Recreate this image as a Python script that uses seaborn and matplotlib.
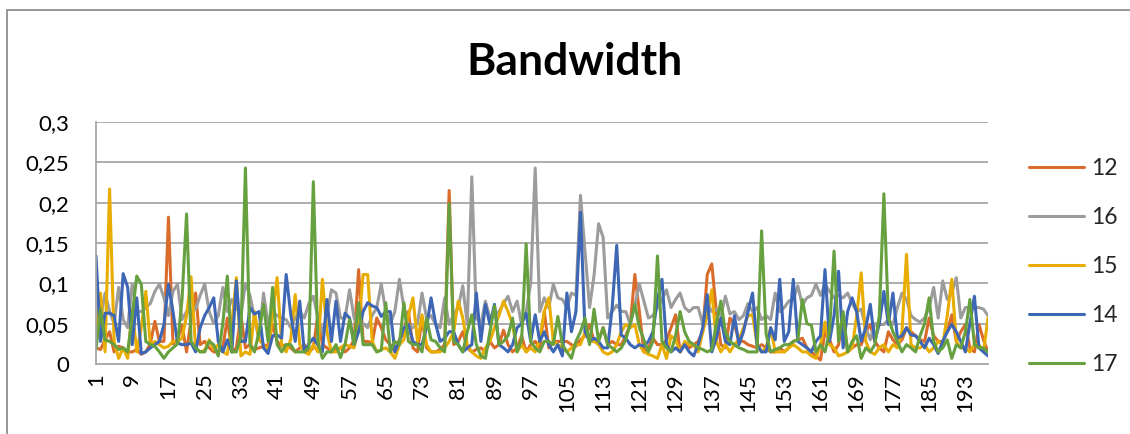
import numpy as np
import pandas as pd
import matplotlib
matplotlib.use("Agg")
import matplotlib.pyplot as plt
from matplotlib.ticker import FixedLocator, FuncFormatter
from matplotlib.lines import Line2D
import seaborn as sns

# Bandwidth samples per run (index 1..198)
bw_12 = [
    0.020, 0.018, 0.030, 0.040, 0.015, 0.022, 0.020, 0.015, 0.015, 0.018,
    0.012, 0.015, 0.025, 0.053, 0.028, 0.028, 0.182, 0.025, 0.030, 0.048,
    0.015, 0.055, 0.088, 0.024, 0.028, 0.020, 0.015, 0.015, 0.020, 0.057,
    0.015, 0.020, 0.060, 0.020, 0.024, 0.018, 0.020, 0.022, 0.024, 0.049,
    0.028, 0.022, 0.024, 0.020, 0.015, 0.020, 0.024, 0.015, 0.020, 0.061,
    0.024, 0.020, 0.015, 0.018, 0.020, 0.015, 0.020, 0.030, 0.117, 0.028,
    0.028, 0.026, 0.057, 0.045, 0.030, 0.024, 0.015, 0.030, 0.040, 0.065,
    0.020, 0.015, 0.057, 0.020, 0.015, 0.015, 0.018, 0.024, 0.215, 0.024,
    0.028, 0.040, 0.020, 0.015, 0.018, 0.020, 0.015, 0.028, 0.020, 0.024,
    0.042, 0.024, 0.015, 0.020, 0.035, 0.015, 0.024, 0.028, 0.020, 0.065,
    0.020, 0.028, 0.028, 0.028, 0.028, 0.024, 0.022, 0.030, 0.035, 0.049,
    0.028, 0.030, 0.045, 0.024, 0.028, 0.024, 0.024, 0.035, 0.049, 0.111,
    0.065, 0.015, 0.020, 0.032, 0.024, 0.024, 0.030, 0.045, 0.061, 0.015,
    0.024, 0.020, 0.024, 0.028, 0.040, 0.111, 0.124, 0.065, 0.024, 0.020,
    0.057, 0.049, 0.028, 0.028, 0.024, 0.022, 0.020, 0.024, 0.020, 0.015,
    0.015, 0.020, 0.015, 0.020, 0.028, 0.030, 0.032, 0.020, 0.015, 0.010,
    0.005, 0.040, 0.030, 0.015, 0.024, 0.060, 0.015, 0.020, 0.024, 0.024,
    0.040, 0.049, 0.028, 0.020, 0.015, 0.040, 0.030, 0.024, 0.030, 0.045,
    0.040, 0.035, 0.030, 0.028, 0.057, 0.035, 0.028, 0.028, 0.040, 0.061,
    0.028, 0.040, 0.049, 0.020, 0.015, 0.049, 0.030, 0.015,
]
bw_16 = [
    0.060, 0.055, 0.088, 0.065, 0.050, 0.095, 0.055, 0.045, 0.099, 0.065,
    0.065, 0.070, 0.075, 0.090, 0.099, 0.082, 0.060, 0.090, 0.099, 0.055,
    0.065, 0.065, 0.068, 0.085, 0.099, 0.065, 0.050, 0.060, 0.095, 0.065,
    0.080, 0.070, 0.060, 0.100, 0.085, 0.057, 0.030, 0.088, 0.050, 0.065,
    0.060, 0.057, 0.055, 0.045, 0.057, 0.065, 0.057, 0.075, 0.084, 0.057,
    0.040, 0.060, 0.092, 0.088, 0.057, 0.057, 0.092, 0.057, 0.045, 0.050,
    0.045, 0.060, 0.070, 0.099, 0.065, 0.050, 0.065, 0.105, 0.070, 0.049,
    0.045, 0.050, 0.088, 0.057, 0.060, 0.049, 0.045, 0.082, 0.049, 0.061,
    0.070, 0.097, 0.049, 0.232, 0.057, 0.049, 0.078, 0.057, 0.060, 0.065,
    0.075, 0.084, 0.065, 0.078, 0.049, 0.065, 0.100, 0.243, 0.065, 0.082,
    0.070, 0.099, 0.082, 0.080, 0.070, 0.088, 0.085, 0.209, 0.140, 0.070,
    0.110, 0.174, 0.157, 0.057, 0.065, 0.073, 0.065, 0.065, 0.049, 0.073,
    0.099, 0.078, 0.057, 0.060, 0.070, 0.080, 0.092, 0.070, 0.080, 0.088,
    0.070, 0.065, 0.070, 0.070, 0.050, 0.075, 0.065, 0.068, 0.060, 0.084,
    0.062, 0.065, 0.055, 0.060, 0.075, 0.065, 0.070, 0.055, 0.060, 0.055,
    0.088, 0.065, 0.070, 0.078, 0.080, 0.097, 0.073, 0.082, 0.085, 0.099,
    0.085, 0.099, 0.090, 0.082, 0.085, 0.082, 0.088, 0.075, 0.065, 0.068,
    0.045, 0.030, 0.050, 0.049, 0.049, 0.055, 0.049, 0.070, 0.088, 0.080,
    0.060, 0.055, 0.052, 0.057, 0.070, 0.095, 0.057, 0.103, 0.080, 0.088,
    0.107, 0.057, 0.070, 0.070, 0.070, 0.070, 0.068, 0.060,
]
bw_15 = [
    0.038, 0.088, 0.015, 0.217, 0.028, 0.007, 0.020, 0.007, 0.068, 0.015,
    0.045, 0.090, 0.024, 0.028, 0.024, 0.020, 0.022, 0.028, 0.028, 0.032,
    0.060, 0.108, 0.020, 0.015, 0.017, 0.030, 0.018, 0.024, 0.015, 0.012,
    0.050, 0.107, 0.010, 0.015, 0.012, 0.065, 0.030, 0.024, 0.015, 0.060,
    0.107, 0.024, 0.015, 0.030, 0.086, 0.024, 0.015, 0.012, 0.024, 0.015,
    0.105, 0.040, 0.015, 0.015, 0.020, 0.024, 0.022, 0.020, 0.045, 0.111,
    0.111, 0.028, 0.015, 0.018, 0.020, 0.015, 0.007, 0.024, 0.030, 0.060,
    0.082, 0.028, 0.061, 0.024, 0.015, 0.015, 0.015, 0.020, 0.028, 0.040,
    0.078, 0.057, 0.024, 0.015, 0.010, 0.007, 0.020, 0.028, 0.045, 0.060,
    0.078, 0.065, 0.049, 0.015, 0.024, 0.015, 0.020, 0.015, 0.030, 0.065,
    0.082, 0.028, 0.024, 0.020, 0.015, 0.020, 0.024, 0.024, 0.040, 0.028,
    0.028, 0.024, 0.015, 0.012, 0.015, 0.024, 0.040, 0.049, 0.045, 0.049,
    0.024, 0.015, 0.012, 0.010, 0.007, 0.024, 0.007, 0.035, 0.030, 0.015,
    0.028, 0.024, 0.024, 0.015, 0.040, 0.060, 0.092, 0.028, 0.015, 0.024,
    0.015, 0.024, 0.030, 0.045, 0.060, 0.061, 0.024, 0.015, 0.020, 0.045,
    0.015, 0.015, 0.015, 0.020, 0.024, 0.020, 0.015, 0.015, 0.010, 0.007,
    0.024, 0.052, 0.024, 0.020, 0.010, 0.012, 0.015, 0.020, 0.060, 0.113,
    0.028, 0.015, 0.012, 0.020, 0.024, 0.015, 0.024, 0.020, 0.040, 0.136,
    0.024, 0.020, 0.020, 0.024, 0.015, 0.020, 0.028, 0.024, 0.060, 0.105,
    0.028, 0.020, 0.020, 0.015, 0.024, 0.024, 0.015, 0.057,
]
bw_14 = [
    0.134, 0.028, 0.063, 0.063, 0.060, 0.028, 0.112, 0.095, 0.024, 0.082,
    0.013, 0.015, 0.020, 0.024, 0.028, 0.049, 0.099, 0.065, 0.026, 0.024,
    0.024, 0.026, 0.015, 0.045, 0.060, 0.070, 0.082, 0.028, 0.015, 0.030,
    0.015, 0.103, 0.028, 0.028, 0.070, 0.062, 0.065, 0.020, 0.013, 0.035,
    0.036, 0.032, 0.111, 0.062, 0.028, 0.078, 0.015, 0.025, 0.032, 0.024,
    0.015, 0.080, 0.028, 0.078, 0.028, 0.063, 0.057, 0.024, 0.040, 0.065,
    0.076, 0.072, 0.070, 0.059, 0.065, 0.065, 0.015, 0.028, 0.045, 0.049,
    0.028, 0.024, 0.024, 0.045, 0.082, 0.050, 0.028, 0.032, 0.040, 0.040,
    0.024, 0.015, 0.020, 0.024, 0.088, 0.028, 0.074, 0.049, 0.074, 0.024,
    0.020, 0.015, 0.024, 0.045, 0.050, 0.063, 0.028, 0.061, 0.028, 0.040,
    0.024, 0.015, 0.024, 0.010, 0.088, 0.040, 0.065, 0.188, 0.040, 0.028,
    0.032, 0.028, 0.020, 0.020, 0.070, 0.147, 0.036, 0.032, 0.024, 0.020,
    0.024, 0.022, 0.028, 0.040, 0.080, 0.105, 0.024, 0.015, 0.020, 0.015,
    0.024, 0.015, 0.010, 0.024, 0.045, 0.086, 0.015, 0.032, 0.057, 0.028,
    0.024, 0.060, 0.024, 0.040, 0.065, 0.088, 0.024, 0.015, 0.015, 0.045,
    0.030, 0.105, 0.028, 0.040, 0.105, 0.028, 0.024, 0.020, 0.015, 0.028,
    0.035, 0.117, 0.028, 0.060, 0.115, 0.020, 0.065, 0.082, 0.065, 0.028,
    0.045, 0.074, 0.028, 0.050, 0.090, 0.049, 0.088, 0.032, 0.035, 0.045,
    0.036, 0.035, 0.028, 0.020, 0.032, 0.024, 0.013, 0.028, 0.040, 0.049,
    0.040, 0.028, 0.015, 0.050, 0.084, 0.020, 0.015, 0.010,
]
bw_17 = [
    0.018, 0.068, 0.030, 0.028, 0.024, 0.018, 0.020, 0.015, 0.060, 0.109,
    0.099, 0.028, 0.024, 0.022, 0.015, 0.007, 0.015, 0.020, 0.025, 0.080,
    0.186, 0.028, 0.020, 0.015, 0.015, 0.028, 0.024, 0.010, 0.050, 0.109,
    0.015, 0.015, 0.035, 0.243, 0.024, 0.015, 0.040, 0.074, 0.028, 0.095,
    0.024, 0.015, 0.024, 0.024, 0.015, 0.015, 0.015, 0.020, 0.226, 0.028,
    0.007, 0.015, 0.015, 0.024, 0.008, 0.024, 0.055, 0.024, 0.076, 0.024,
    0.024, 0.024, 0.015, 0.017, 0.076, 0.015, 0.028, 0.024, 0.076, 0.028,
    0.024, 0.024, 0.015, 0.057, 0.030, 0.028, 0.020, 0.015, 0.199, 0.028,
    0.024, 0.015, 0.040, 0.061, 0.024, 0.010, 0.007, 0.040, 0.072, 0.024,
    0.028, 0.035, 0.057, 0.015, 0.030, 0.149, 0.028, 0.020, 0.015, 0.028,
    0.028, 0.024, 0.059, 0.024, 0.015, 0.007, 0.028, 0.040, 0.057, 0.024,
    0.068, 0.028, 0.045, 0.024, 0.020, 0.015, 0.020, 0.030, 0.050, 0.074,
    0.045, 0.030, 0.015, 0.028, 0.134, 0.028, 0.020, 0.015, 0.035, 0.065,
    0.040, 0.028, 0.024, 0.020, 0.018, 0.015, 0.018, 0.050, 0.078, 0.040,
    0.028, 0.024, 0.020, 0.018, 0.015, 0.015, 0.015, 0.165, 0.037, 0.015,
    0.018, 0.020, 0.024, 0.024, 0.028, 0.030, 0.080, 0.050, 0.048, 0.015,
    0.024, 0.015, 0.040, 0.140, 0.028, 0.065, 0.015, 0.028, 0.035, 0.007,
    0.020, 0.015, 0.024, 0.060, 0.211, 0.057, 0.040, 0.028, 0.015, 0.024,
    0.020, 0.015, 0.035, 0.050, 0.082, 0.028, 0.015, 0.020, 0.030, 0.007,
    0.024, 0.020, 0.040, 0.080, 0.024, 0.020, 0.020, 0.015,
]

series_names = ["12", "16", "15", "14", "17"]
series_values = [bw_12, bw_16, bw_15, bw_14, bw_17]
series_colors = ["#DA6C2B", "#9C9C9C", "#E8AD00", "#3D66B5", "#66A03F"]

y_ticks = [0, 0.05, 0.1, 0.15, 0.2, 0.25, 0.3]
x_label_step = 8

n = len(bw_12)
idx = np.arange(1, n + 1)
df = pd.concat(
    [pd.DataFrame({"idx": idx, "value": v, "series": s})
     for s, v in zip(series_names, series_values)],
    ignore_index=True,
)

sns.set_style("white")
plt.rcParams["font.family"] = ["Lato", "DejaVu Sans"]

W, H = 1130, 434
fig = plt.figure(figsize=(W / 100, H / 100), dpi=100)
ax = fig.add_axes([96 / W, 1 - 364 / H, (988 - 96) / W, (364 - 122) / H])

palette = dict(zip(series_names, series_colors))
sns.lineplot(data=df, x="idx", y="value", hue="series", hue_order=series_names,
             palette=palette, sort=False, linewidth=2.2, ax=ax, legend=False)

ax.set_xlim(1, n)
ax.set_ylim(0, 0.3)
ax.set_xlabel("")
ax.set_ylabel("")

grid_color = "#A6A6A6"
ax.yaxis.set_major_locator(FixedLocator(y_ticks))
ax.yaxis.set_major_formatter(FuncFormatter(lambda v, p: f"{v:g}".replace(".", ",")))
for y in y_ticks[1:]:
    ax.axhline(y, color=grid_color, lw=1.3, zorder=0)

ax.xaxis.set_major_locator(FixedLocator(list(range(1, n + 1, x_label_step))))
ax.xaxis.set_minor_locator(FixedLocator(list(range(1, n + 1))))
ax.xaxis.set_major_formatter(FuncFormatter(lambda v, p: f"{int(v)}"))

for side in ("top", "right"):
    ax.spines[side].set_visible(False)
for side in ("left", "bottom"):
    ax.spines[side].set_color(grid_color)
    ax.spines[side].set_linewidth(1.3)

ax.tick_params(axis="y", which="major", direction="out", length=6, width=1.2,
               color=grid_color, labelsize=16, pad=13, labelcolor="#000000")
ax.tick_params(axis="x", which="both", direction="out", length=4.5, width=1.0,
               color=grid_color)
ax.tick_params(axis="x", which="major", labelsize=16, labelrotation=90, pad=2,
               labelcolor="#000000")

fig.text(575 / W, 1 - 62 / H, "Bandwidth", ha="center", va="center",
         fontsize=32, fontweight="bold", color="#000000")

handles = [Line2D([0], [0], color=c, lw=2.2) for c in series_colors]
fig.legend(handles, series_names, loc="upper left",
           bbox_to_anchor=(1029 / W, 1 - 158 / H), frameon=False,
           fontsize=16.5, handlelength=2.4, handletextpad=0.3,
           labelspacing=1.22, borderpad=0, borderaxespad=0)

# chart frame
fig.patches.append(plt.Rectangle((6.5 / W, -0.1), 1.2, 1 - 10.5 / H + 0.1,
                                 transform=fig.transFigure, fill=False,
                                 edgecolor="#8F8F8F", lw=1.3))

fig.savefig("out.png", dpi=100, facecolor="white")
